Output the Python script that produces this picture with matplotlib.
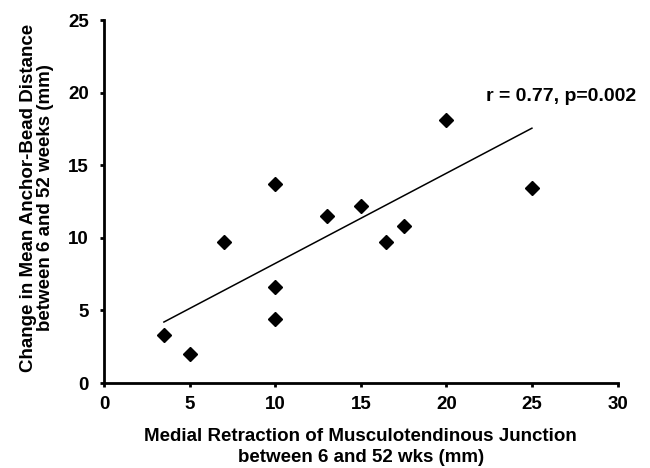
import matplotlib
matplotlib.use('Agg')
import matplotlib.pyplot as plt

plt.rcParams['font.family'] = ['Liberation Sans', 'DejaVu Sans']
plt.rcParams['font.weight'] = 'bold'

# medial retraction (mm) vs change in anchor-bead distance (mm)
retraction = [3.5, 5.0, 7.0, 10.0, 10.0, 10.0, 13.0, 15.0, 16.5, 17.5, 20.0, 25.0]
bead_change = [3.3, 2.0, 9.7, 13.7, 6.6, 4.4, 11.5, 12.2, 9.7, 10.8, 18.1, 13.4]
# trend line as drawn in the figure
trend_x = [3.5, 25.0]
trend_y = [4.2, 17.55]
stats_text = 'r = 0.77, p=0.002'

fs = 13.5

fig = plt.figure(figsize=(6.5, 4.68), dpi=100)
ax = fig.add_axes([0.16, 0.1816, 0.79, 0.7756])

ax.plot(retraction, bead_change, 'D', color='black', markersize=7.5, linestyle='none')
ax.plot(trend_x, trend_y, color='black', linewidth=1.1)

ax.text(22.3, 19.75, stats_text, fontsize=14, fontweight='bold', va='center', ha='left')

ax.set_xlim(0, 30)
ax.set_ylim(0, 25)
ax.set_xticks(range(0, 31, 5))
ax.set_yticks(range(0, 26, 5))
for s in ['top', 'right']:
    ax.spines[s].set_visible(False)
for s in ['left', 'bottom']:
    ax.spines[s].set_linewidth(2.0)
ax.tick_params(direction='out', length=3, width=2.0, labelsize=fs)
ax.tick_params(axis='x', pad=6)
ax.tick_params(axis='y', pad=8)
for lbl in ax.get_xticklabels() + ax.get_yticklabels():
    lbl.set_fontweight('bold')

ax.set_xlabel('Medial Retraction of Musculotendinous Junction\nbetween 6 and 52 wks (mm)',
              fontsize=fs, fontweight='bold', linespacing=1.25)
ax.xaxis.set_label_coords(0.5, -0.125)
ax.set_ylabel('Change in Mean Anchor-Bead Distance\nbetween 6 and 52 weeks (mm)',
              fontsize=fs, fontweight='bold', linespacing=1.0)
ax.yaxis.set_label_coords(-0.097, 0.51)

plt.savefig('out.png', dpi=100)
